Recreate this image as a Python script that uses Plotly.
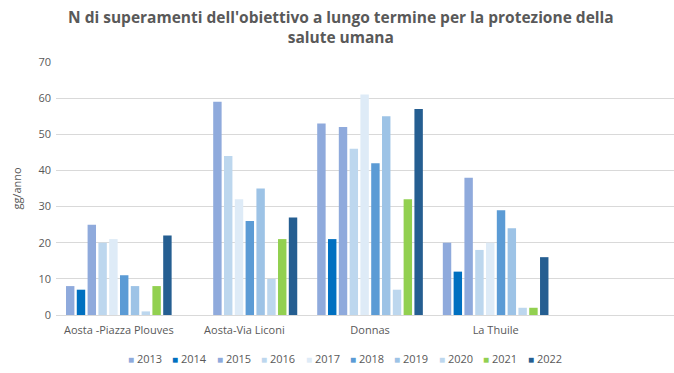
import plotly.graph_objects as go

stations = ["Aosta -Piazza Plouves", "Aosta-Via Liconi", "Donnas", "La Thuile"]
years = ["2013", "2014", "2015", "2016", "2017", "2018", "2019", "2020", "2021", "2022"]

v2013 = [8, None, 53, 20]
v2014 = [7, None, 21, 12]
v2015 = [25, 59, 52, 38]
v2016 = [20, 44, 46, 18]
v2017 = [21, 32, 61, 20]
v2018 = [11, 26, 42, 29]
v2019 = [8, 35, 55, 24]
v2020 = [1, 10, 7, 2]
v2021 = [8, 21, 32, 2]
v2022 = [22, 27, 57, 16]

series = [v2013, v2014, v2015, v2016, v2017, v2018, v2019, v2020, v2021, v2022]
colors = ["#8FAADC", "#0070C0", "#8FAADC", "#BDD7EE", "#DEEBF7",
          "#5B9BD5", "#9DC3E6", "#BDD7EE", "#92D050", "#255E91"]

W, H = 674, 373
ML, MR, MT, MB = 56, 0, 62, 58
PW, PH = W - ML - MR, H - MT - MB

def px_x(p):
    return (p - ML) / PW

def px_y(p):
    return (H - MB - p) / PH

fig = go.Figure()
for y, vals, c in zip(years, series, colors):
    fig.add_trace(go.Bar(name=y, x=stations, y=vals, marker_color=c,
                         marker_line_width=0, showlegend=False))

font_family = "Open Sans, Liberation Sans, sans-serif"

annotations = [dict(
    text="<b>N di superamenti dell'obiettivo a lungo termine per la protezione della<br>salute umana</b>",
    xref="paper", yref="paper", x=px_x(341), y=px_y(27.5),
    xanchor="center", yanchor="middle", showarrow=False,
    font=dict(size=15.5, color="#595959", family=font_family),
)]

# legend built as text entries
for i, (y, c) in enumerate(zip(years, colors)):
    annotations.append(dict(
        text=f"<span style='color:{c};font-size:10px'>■</span> {y}",
        xref="paper", yref="paper", x=px_x(126 + 44.4 * i), y=px_y(358),
        xanchor="left", yanchor="middle", showarrow=False,
        font=dict(size=11, color="#595959", family=font_family),
    ))

fig.update_layout(
    width=W, height=H,
    barmode="group", bargap=0.14, bargroupgap=0.22,
    plot_bgcolor="white", paper_bgcolor="white",
    margin=dict(l=ML, r=MR, t=MT, b=MB, autoexpand=False),
    font=dict(family=font_family, color="#595959", size=11),
    showlegend=False,
    xaxis=dict(type="category", range=[-0.5, 4.42], showgrid=False,
               showline=True, linecolor="#D9D9D9", linewidth=1,
               ticks="", ticklabelstandoff=5,
               tickfont=dict(size=11, color="#595959")),
    yaxis=dict(range=[0, 70], dtick=10, showgrid=True, gridcolor="#D9D9D9",
               gridwidth=1, zeroline=False, showline=False,
               ticklabelstandoff=4,
               tickfont=dict(size=11, color="#595959"),
               title=dict(text="gg/anno", font=dict(size=11, color="#595959"), standoff=14)),
    annotations=annotations,
)

fig.write_html("out.html", config={"displayModeBar": False},
               post_script="document.body.style.margin='0';")
